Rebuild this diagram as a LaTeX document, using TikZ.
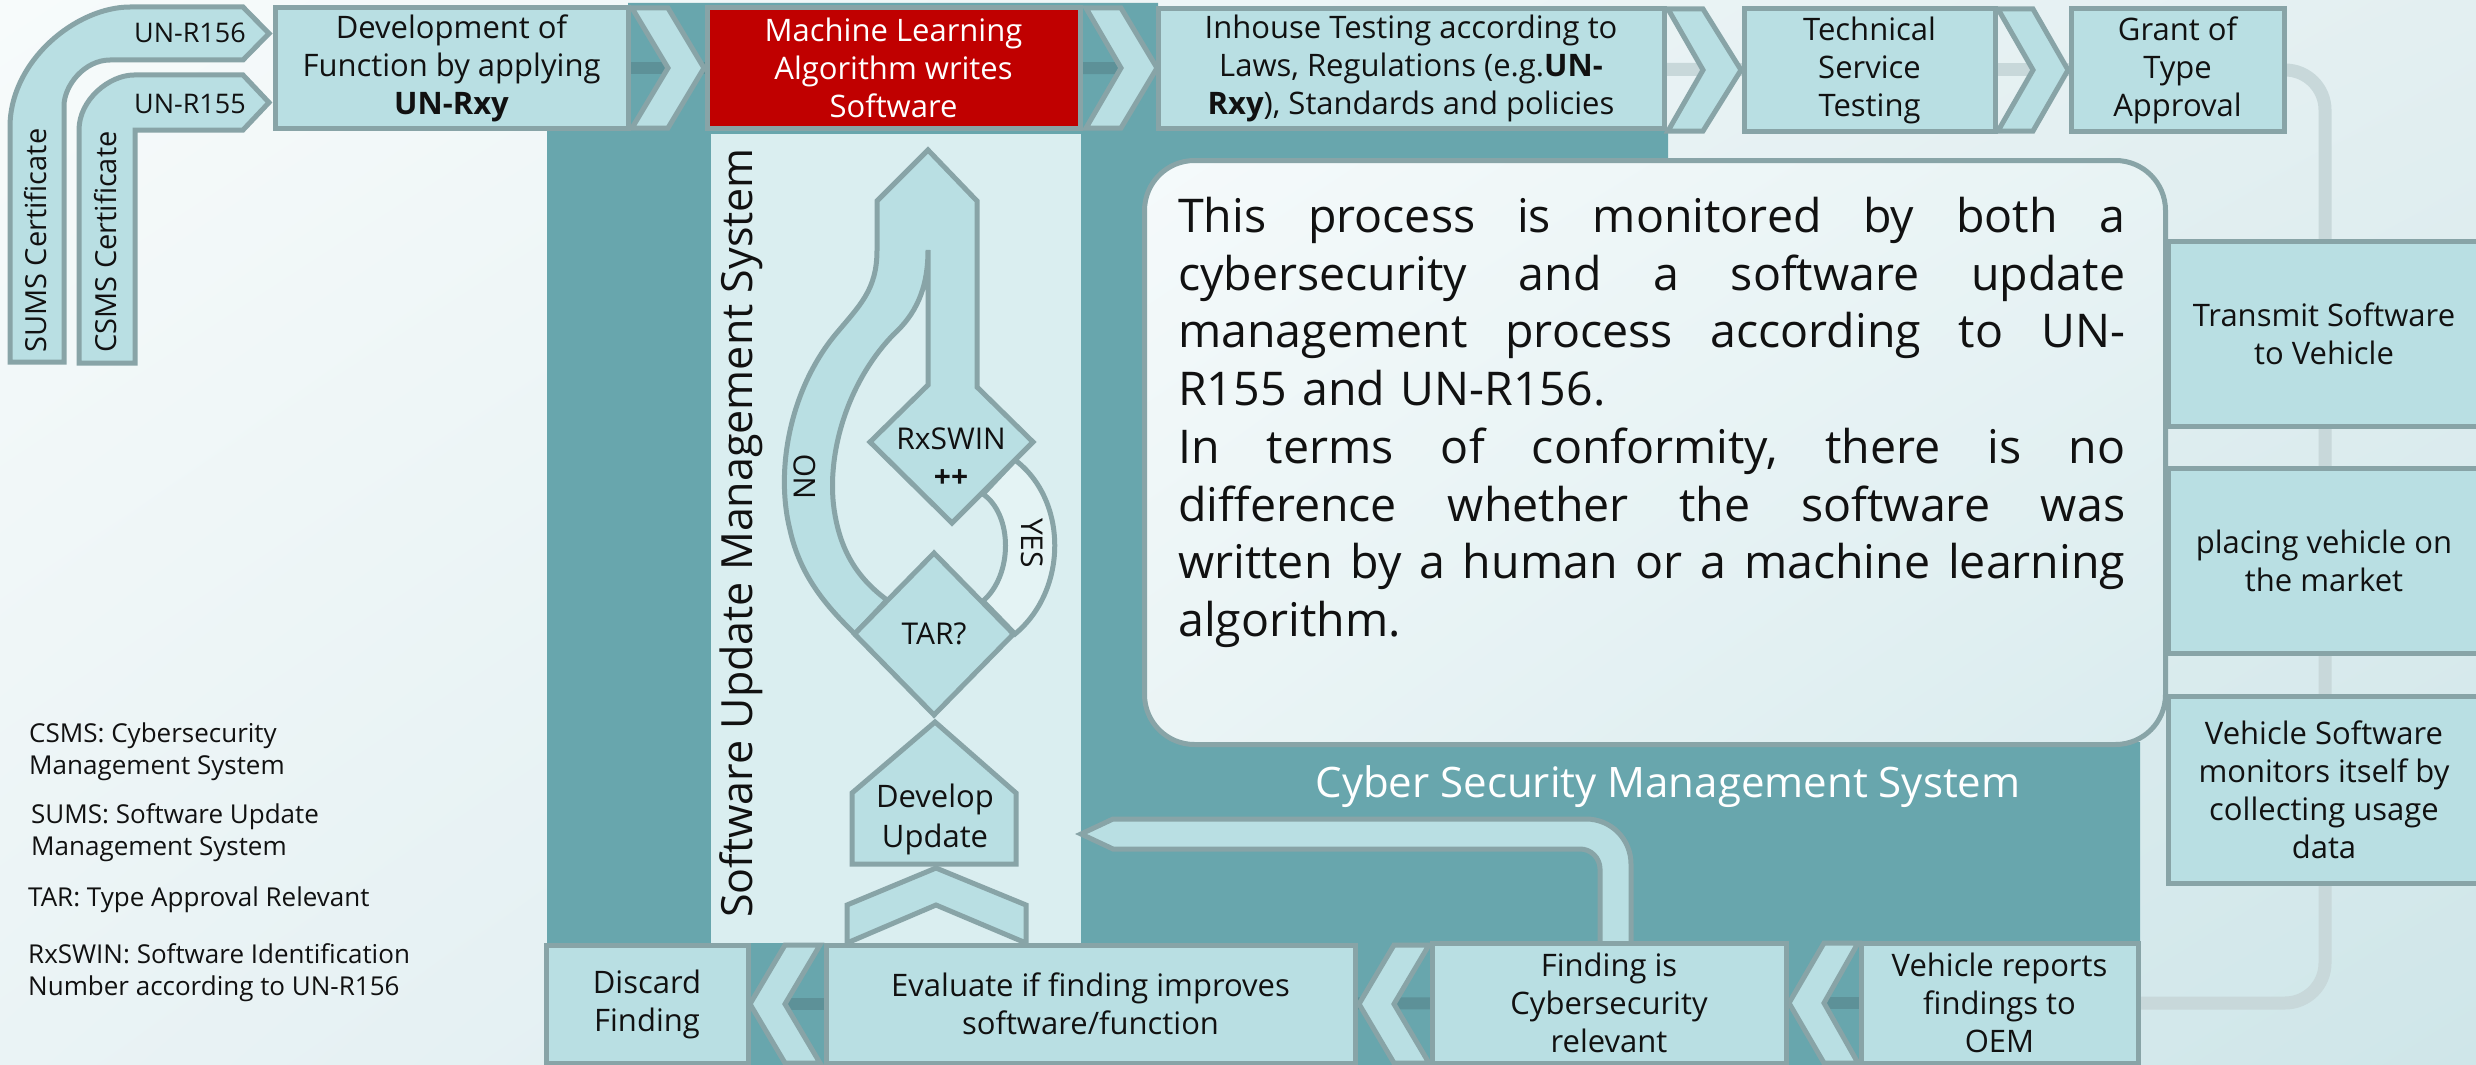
\documentclass[tikz,border=0pt]{standalone}
\usepackage{fontspec}
\setmainfont{Open Sans}
\usetikzlibrary{shapes.geometric,shadings}
\definecolor{boxfill}{HTML}{B9DFE3}
\definecolor{boxline}{HTML}{88A4A7}
\definecolor{tealbg}{HTML}{68A6AD}
\definecolor{panel}{HTML}{DAEEF0}
\definecolor{yesfill}{HTML}{E4F3F4}
\definecolor{darkbar}{HTML}{5D9198}
\definecolor{lightbar}{HTML}{C8D8DA}
\definecolor{mlred}{HTML}{C00000}
\definecolor{txt}{HTML}{111111}
\definecolor{bgA}{HTML}{F7FBFB}
\definecolor{bgB}{HTML}{E3EFF1}
\definecolor{bgC}{HTML}{EAF3F5}
\definecolor{bgD}{HTML}{CFE6E9}
\definecolor{tbA}{HTML}{F5FAFB}
\definecolor{tbB}{HTML}{E8F3F4}
\definecolor{tbC}{HTML}{EAF4F5}
\definecolor{tbD}{HTML}{DAECEF}
\pgfdeclarelayer{back}
\pgfdeclarelayer{mid}
\pgfsetlayers{back,mid,main}
\newcommand{\myfs}[2]{\fontsize{#1pt}{#2pt}\selectfont}
\newcommand{\jline}[1]{\leavevmode\hbox to 947pt{#1}}
\tikzset{
  box/.style={draw=boxline, fill=boxfill, line width=5pt, inner sep=0pt, align=center, font=\myfs{31}{38}, text=txt},
  chev/.style={draw=boxline, fill=boxfill, line width=5pt},
  shp/.style={draw=boxline, fill=boxfill, line width=5pt},
  darkconn/.style={draw=darkbar, line width=12pt},
  lightconn/.style={draw=lightbar, line width=13pt},
  lbl/.style={inner sep=0pt, text=txt},
}
\begin{document}
\begin{tikzpicture}[x=1pt,y=-1pt]
\useasboundingbox (0,0) rectangle (2476,1065);
\begin{pgfonlayer}{back}
\shade[upper left=bgA, upper right=bgB, lower left=bgC, lower right=bgD] (0,0) rectangle (2476,1065);
\fill[tealbg] (628,3) -- (1158,3) -- (1158,128) -- (1668,128) -- (1668,742) -- (2140,742) -- (2140,1070) -- (547,1070) -- (547,128) -- (628,128) -- cycle;
\end{pgfonlayer}

% SUMS panel and monitoring text box
\fill[panel] (711,134) rectangle (1081,943);
\node[draw=boxline, line width=5pt, rounded corners=50pt, upper left=tbA, upper right=tbB, lower left=tbC, lower right=tbD, minimum width=1021pt, minimum height=584pt, anchor=north west, inner sep=0pt] (monbox) at (1142,158) {};

% certificate bands
\path[shp] (10,362) -- (10,127) .. controls (10,60.7) and (76.3,7) .. (130,7) -- (243,7) -- (269,33.5) -- (243,60) -- (110,60) .. controls (84.6,60) and (64,85.4) .. (64,106) -- (64,362) -- cycle;
\path[shp] (79,363) -- (79,130) .. controls (79,99.6) and (109.4,75) .. (134,75) -- (243,75) -- (269,102.5) -- (243,130) -- (135,130) -- (135,363) -- cycle;
\node[lbl, anchor=base east, font=\myfs{27}{32}] (r156) at (246,43) {UN-R156};
\node[lbl, anchor=base east, font=\myfs{27}{32}] (r155) at (246,113) {UN-R155};
\node[lbl, rotate=90, anchor=base west, font=\myfs{29}{34}] (sumscert) at (46,353) {SUMS Certificate};
\node[lbl, rotate=90, anchor=base west, font=\myfs{29}{34}] (csmscert) at (116,353) {CSMS Certificate};

% SUMS decision flow
\path[shp, fill=yesfill] (1015,460) .. controls (1068,500) and (1068,590) .. (1015,634) -- (983,601) .. controls (1013,575) and (1013,515) .. (983,494) -- cycle;
\path[shp] (928,150) -- (977,201) -- (977,387) -- (1033,442) -- (952,523) -- (870,442) -- (928,385) -- (928,250)
  .. controls (928,290) and (915,315) .. (893,335)
  .. controls (845,385) and (825,460) .. (835,515)
  .. controls (842,555) and (860,580) .. (887,600)
  -- (855,634)
  .. controls (825,605) and (800,575) .. (790,530)
  .. controls (775,470) and (790,390) .. (835,335)
  .. controls (860,305) and (877,290) .. (877,250)
  -- (877,201) -- cycle;
\node[shp, diamond, minimum width=161pt, minimum height=164pt, inner sep=0pt, font=\myfs{30}{36}, text=txt] (tar) at (934,634) {TAR?};
\node[lbl, align=center, font=\myfs{30}{38}] (rxswin) at (951,458) {RxSWIN\\\textbf{++}};
\node[lbl, rotate=90, font=\myfs{30}{36}] (nolbl) at (805,477) {NO};
\node[lbl, rotate=-90, font=\myfs{30}{36}] (yeslbl) at (1032,543) {YES};
\path[shp] (935,722) -- (1016,793) -- (1016,864) -- (852,864) -- (852,793) -- cycle;
\node[lbl, align=center, font=\myfs{31}{40}] (devup) at (935,819) {Develop\\Update};
\path[chev] (847,943) -- (847,905) -- (936,868) -- (1026,905) -- (1026,943) -- (936,905) -- cycle;
\node[lbl, rotate=90, anchor=base west, font=\myfs{43}{50}] (sumslbl) at (752,918) {Software Update Management System};

% CSMS feedback arrow
\path[shp] (1081,834) -- (1113,819) -- (1586,819) .. controls (1611,819) and (1631,839) .. (1631,864) -- (1631,945) -- (1600,945) -- (1600,869) .. controls (1600,858) and (1591,849) .. (1580,849) -- (1113,849) -- cycle;
\node[lbl, text=white, anchor=base, font=\myfs{42}{50}] (csmslbl) at (1668,797) {Cyber Security Management System};

% top row
\node[box, minimum width=353pt, minimum height=120pt] (dev) at (451.5,68) {Development of\\Function by applying\\\textbf{UN-Rxy}};
\node[box, fill=mlred, text=white, minimum width=373pt, minimum height=120pt] (red) at (893.5,68) {Machine Learning\\Algorithm writes\\Software};
\node[box, minimum width=506pt, minimum height=119pt] (inh) at (1411,68.5) {Inhouse Testing according to\\Laws, Regulations (e.g.\textbf{UN-}\\\textbf{Rxy}), Standards and policies};
\node[box, minimum width=251pt, minimum height=122pt] (tech) at (1869.5,70) {Technical\\Service\\Testing};
\node[box, minimum width=213pt, minimum height=122pt] (grant) at (2177.5,70) {Grant of\\Type\\Approval};
\path[chev] (632,8) -- (668,8) -- (704,68) -- (668,128) -- (632,128) -- (668,68) -- cycle;
\path[chev] (1086,8) -- (1121,8) -- (1157,68) -- (1121,128) -- (1086,128) -- (1121,68) -- cycle;
\path[chev] (1668,9) -- (1703,9) -- (1741,70) -- (1703,131) -- (1668,131) -- (1703,70) -- cycle;
\path[chev] (1998,9) -- (2033,9) -- (2068,70) -- (2033,131) -- (1998,131) -- (2033,70) -- cycle;

% right column
\node[box, minimum width=312pt, minimum height=185pt] (trans) at (2324,333.5) {Transmit Software\\to Vehicle};
\node[box, minimum width=312pt, minimum height=185pt] (place) at (2324,560.5) {placing vehicle on\\the market};
\node[box, minimum width=312pt, minimum height=187pt] (vsw) at (2324,789.5) {Vehicle Software\\monitors itself by\\collecting usage\\data};

% bottom row
\node[box, minimum width=277pt, minimum height=120pt] (vrep) at (1999.5,1003) {Vehicle reports\\findings to\\OEM};
\node[box, minimum width=354pt, minimum height=120pt] (find) at (1609,1003) {Finding is\\Cybersecurity\\relevant};
\node[box, minimum width=529pt, minimum height=118pt] (eval) at (1090.5,1004) {Evaluate if finding improves\\software/function};
\node[box, minimum width=202pt, minimum height=118pt] (disc) at (647,1004) {Discard\\Finding};
\path[chev] (785,945) -- (820,945) -- (785,1004) -- (820,1063) -- (785,1063) -- (750,1004) -- cycle;
\path[chev] (1394,945) -- (1429,945) -- (1394,1004) -- (1429,1063) -- (1394,1063) -- (1359,1004) -- cycle;
\path[chev] (1824,943) -- (1858,943) -- (1824,1003) -- (1858,1063) -- (1824,1063) -- (1789,1003) -- cycle;

% monitoring text
\node[lbl, anchor=north west, text width=950pt, align=left, font=\myfs{46.5}{57.7}] (montext) at (1178,197) {%
\jline{This\hfill process\hfill is\hfill monitored\hfill by\hfill both\hfill a}\\
\jline{cybersecurity\hfill and\hfill a\hfill software\hfill update}\\
\jline{management\hfill process\hfill according\hfill to\hfill UN-}\\
R155 and UN-R156.\\
\jline{In\hfill terms\hfill of\hfill conformity,\hfill there\hfill is\hfill no}\\
\jline{difference\hfill whether\hfill the\hfill software\hfill was}\\
\jline{written\hfill by\hfill a\hfill human\hfill or\hfill a\hfill machine\hfill learning}\\
algorithm.};

% legend
\node[lbl, anchor=north west, align=left, font=\myfs{26}{32}] (leg1) at (29,723) {CSMS: Cybersecurity\\Management System};
\node[lbl, anchor=north west, align=left, font=\myfs{26}{32}] (leg2) at (31,803) {SUMS: Software Update\\Management System};
\node[lbl, anchor=north west, align=left, font=\myfs{26}{32}] (leg3) at (28,887) {TAR: Type Approval Relevant};
\node[lbl, anchor=north west, align=left, font=\myfs{26}{32}] (leg4) at (28,943) {RxSWIN: Software Identification\\Number according to UN-R156};

% connectors
\begin{pgfonlayer}{mid}
\draw[darkconn] (dev.center) -- (red.center);
\draw[darkconn] (red.center) -- (inh.center);
\draw[lightconn] (inh.center) -- (tech.center);
\draw[lightconn] (tech.center) -- (grant.center);
\draw[lightconn, rounded corners=40pt] (grant.center) -- (2325,70) -- (2325,1003) -- (vrep.center);
\draw[darkconn] (vrep.center) -- (find.center);
\draw[darkconn] (find.center) -- (eval.center);
\draw[darkconn] (eval.center) -- (disc.center);
\end{pgfonlayer}
\end{tikzpicture}
\end{document}
